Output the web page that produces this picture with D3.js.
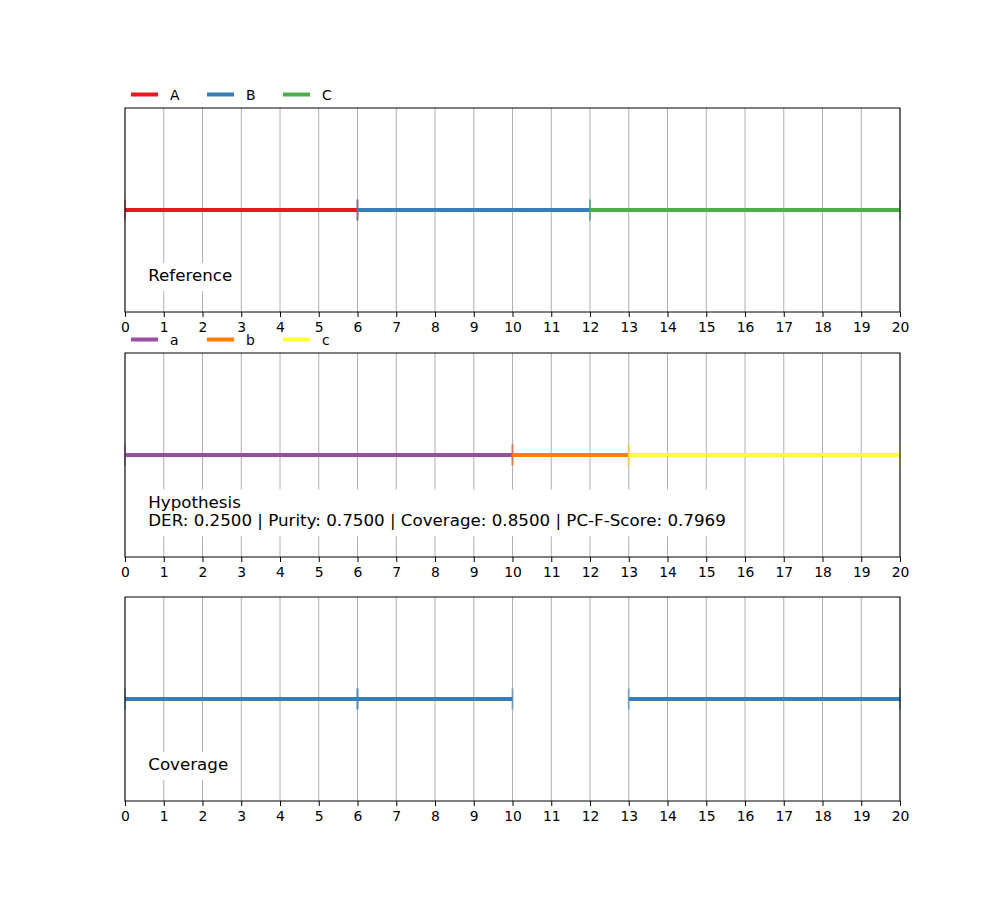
<!DOCTYPE html>
<html><head><meta charset="utf-8">
<script src="https://cdn.jsdelivr.net/npm/d3@7"></script>
<style>body{margin:0;background:#fff}svg{font-family:"DejaVu Sans",sans-serif}</style>
</head><body><svg id="c" width="1000" height="900"></svg>
<script>
const xTicks = [0,1,2,3,4,5,6,7,8,9,10,11,12,13,14,15,16,17,18,19,20];
const refLabels = ["A","B","C"];
const refStarts = [0,6,12];
const refEnds = [6,12,20];
const refColors = ["#e41a1c","#377eb8","#4daf4a"];
const hypLabels = ["a","b","c"];
const hypStarts = [0,10,13];
const hypEnds = [10,13,20];
const hypColors = ["#984ea3","#ff7f00","#ffff33"];
const covStarts = [0,6,13];
const covEnds = [6,10,20];
const covColor = "#377eb8";
const metricNames = ["DER","Purity","Coverage","PC-F-Score"];
const metricValues = [0.25,0.75,0.85,0.7969];

const svg = d3.select("#c");
const left = 125, right = 900;
const x = d3.scaleLinear().domain([0,20]).range([left,right]);
const panels = [
  {top:108, bottom:312, segs: refStarts.map((s,i)=>({s, e:refEnds[i], c:refColors[i], l:refLabels[i]})), legend:true,
   text:["Reference"]},
  {top:353, bottom:557, segs: hypStarts.map((s,i)=>({s, e:hypEnds[i], c:hypColors[i], l:hypLabels[i]})), legend:true,
   text:["Hypothesis", metricNames.map((n,i)=>n+": "+metricValues[i].toFixed(4)).join(" | ")]},
  {top:597, bottom:801, segs: covStarts.map((s,i)=>({s, e:covEnds[i], c:covColor})), legend:false,
   text:["Coverage"]}
];

panels.forEach(p=>{
  const g = svg.append("g");
  const yc = (p.top+p.bottom)/2;
  g.selectAll("line.grid").data(xTicks).join("line")
    .attr("x1",d=>x(d)).attr("x2",d=>x(d)).attr("y1",p.top).attr("y2",p.bottom)
    .attr("stroke","#b0b0b0").attr("stroke-width",1);
  p.segs.forEach(d=>{
    g.append("line").attr("x1",x(d.s)).attr("x2",x(d.e)).attr("y1",yc).attr("y2",yc)
      .attr("stroke",d.c).attr("stroke-width",4);
    [d.s,d.e].forEach(v=>{
      g.append("line").attr("x1",x(v)).attr("x2",x(v)).attr("y1",yc-10.5).attr("y2",yc+10.5)
        .attr("stroke",d.c).attr("stroke-width",2).attr("stroke-opacity",0.5);
    });
  });
  const fs = 16.7;
  const tg = g.append("g");
  const n = p.text.length;
  const bottomY = p.bottom - 0.1*(p.bottom-p.top);
  const lineH = 18.5;
  const tx = x(0) + 0.03*(right-left);
  const t = tg.append("text").attr("font-size",fs).attr("fill","#000");
  p.text.forEach((s,i)=>{
    t.append("tspan").attr("x",tx).attr("y", bottomY - 10.5 - (n-1-i)*lineH).text(s);
  });
  const bb = t.node().getBBox();
  tg.insert("rect","text").attr("x",bb.x-4).attr("y",bb.y-2).attr("width",bb.width+8).attr("height",bb.height+8)
    .attr("fill","#fff");
  const ax = svg.append("g").attr("transform",`translate(0,${p.bottom})`)
    .call(d3.axisBottom(x).tickValues(xTicks).tickFormat(d3.format("d")).tickSize(5).tickSizeOuter(0).tickPadding(5));
  ax.select(".domain").remove();
  ax.selectAll("text").attr("font-size",13.9).attr("font-family","DejaVu Sans").attr("fill","#000");
  ax.selectAll("line").attr("stroke","#000");
  svg.append("rect").attr("x",left).attr("y",p.top).attr("width",right-left).attr("height",p.bottom-p.top)
    .attr("fill","none").attr("stroke","#000").attr("stroke-width",1);
  if(p.legend){
    const ly = p.top - 13.5;
    const lg = svg.append("g");
    p.segs.forEach((d,i)=>{
      const lx = 131 + i*76;
      lg.append("line").attr("x1",lx).attr("x2",lx+27).attr("y1",ly).attr("y2",ly)
        .attr("stroke",d.c).attr("stroke-width",4);
      lg.append("text").attr("x",lx+39).attr("y",ly+5).attr("font-size",13.9).attr("fill","#000").text(d.l);
    });
  }
});
</script></body></html>
